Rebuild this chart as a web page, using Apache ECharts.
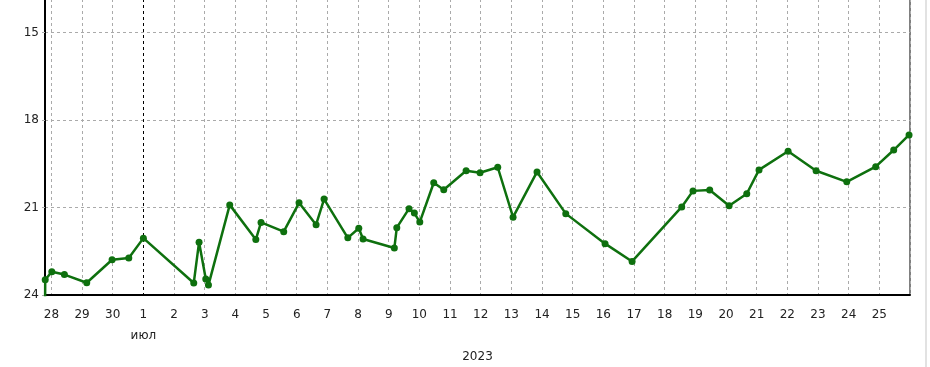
<!DOCTYPE html>
<html>
<head>
<meta charset="utf-8">
<script src="https://cdn.jsdelivr.net/npm/echarts@6/dist/echarts.min.js"></script>
<style>
html,body{margin:0;padding:0;background:#fff;overflow:hidden;width:930px;height:367px;}
#chart{width:930px;height:422px;margin-top:-55px;}
</style>
</head>
<body>
<div id="chart"></div>
<script>
// ---- data ----
var times = [
  '2023-06-27 19:00', '2023-06-27 19:10', '2023-06-28 00:20', '2023-06-28 10:10',
  '2023-06-29 03:40', '2023-06-29 23:30', '2023-06-30 12:35', '2023-07-01 00:00',
  '2023-07-02 15:25', '2023-07-02 19:35', '2023-07-03 00:50', '2023-07-03 02:55',
  '2023-07-03 19:35', '2023-07-04 16:00', '2023-07-04 20:05', '2023-07-05 13:50',
  '2023-07-06 01:50', '2023-07-06 15:10', '2023-07-06 21:25', '2023-07-07 16:00',
  '2023-07-08 00:35', '2023-07-08 03:55', '2023-07-09 04:25', '2023-07-09 06:20',
  '2023-07-09 15:55', '2023-07-09 20:05', '2023-07-10 00:20', '2023-07-10 11:15',
  '2023-07-10 19:05', '2023-07-11 12:35', '2023-07-11 23:30', '2023-07-12 13:20',
  '2023-07-13 01:20', '2023-07-13 20:05', '2023-07-14 18:35', '2023-07-16 01:20',
  '2023-07-16 22:30', '2023-07-18 13:20', '2023-07-18 22:10', '2023-07-19 11:15',
  '2023-07-20 02:25', '2023-07-20 16:15', '2023-07-21 01:50', '2023-07-22 00:35',
  '2023-07-22 22:30', '2023-07-23 22:30', '2023-07-24 21:10', '2023-07-25 11:15',
  '2023-07-25 23:15'
];
var values = [
  24.8, 23.48, 23.20, 23.30,
  23.58, 22.79, 22.73, 22.05,
  23.59, 22.19, 23.45, 23.66,
  20.91, 22.10, 21.51, 21.83,
  20.84, 21.59, 20.71, 22.04,
  21.71, 22.08, 22.39, 21.69,
  21.04, 21.19, 21.50, 20.15,
  20.39, 19.74, 19.81, 19.62,
  21.33, 19.78, 21.21, 22.24,
  22.85, 20.98, 20.43, 20.40,
  20.94, 20.53, 19.71, 19.07,
  19.74, 20.12, 19.60, 19.03,
  18.51
];
var xMin = '2023-06-27 19:00';
var xMax = '2023-07-26 00:00';
var monthBoundary = '2023-07-01 00:00';
var monthNames = ['янв','фев','мар','апр','май','июн','июл','авг','сен','окт','ноя','дек'];
var yearLabel = '2023';
var yMin = 12, yMax = 24, yStep = 3;

function ts(s) {
  var p = s.split(/[- :]/).map(Number);
  return new Date(p[0], p[1] - 1, p[2], p[3], p[4]).getTime();
}

var seriesData = times.map(function (t, i) { return [ts(t), values[i]]; });
var maxTs = ts(xMax);

var chart = echarts.init(document.getElementById('chart'));
var font = 'DejaVu Sans';
chart.setOption({
  animation: false,
  backgroundColor: '#fff',
  grid: {
    left: 45, right: 20, top: 0, bottom: 72,
    containLabel: false,
    outerBoundsMode: 'none',
    show: true, borderColor: '#000', borderWidth: 1, backgroundColor: 'transparent'
  },
  xAxis: {
    type: 'time',
    min: ts(xMin),
    max: maxTs,
    minInterval: 86400000,
    maxInterval: 86400000,
    name: yearLabel,
    nameLocation: 'middle',
    nameGap: 52,
    nameTextStyle: { fontFamily: font, fontSize: 12, color: '#222' },
    axisLine: { show: true, lineStyle: { color: '#000', width: 2 } },
    axisTick: { show: false },
    splitLine: { show: true, lineStyle: { color: '#aaa', type: [3, 3], width: 1 } },
    axisLabel: {
      fontFamily: font, fontSize: 12, color: '#222', margin: 9, lineHeight: 21,
      hideOverlap: false,
      formatter: function (val) {
        var d = new Date(val);
        if (d.getHours() || d.getMinutes()) return '';
        if (val >= maxTs) return '';
        if (d.getDate() === 1) return '1\n' + monthNames[d.getMonth()];
        return String(d.getDate());
      }
    }
  },
  yAxis: {
    type: 'value',
    inverse: true,
    min: yMin, max: yMax, interval: yStep,
    axisLine: { show: true, lineStyle: { color: '#000', width: 2 } },
    axisTick: { show: true, length: 5, lineStyle: { color: '#aaa', type: [3, 3] } },
    splitLine: { show: true, lineStyle: { color: '#aaa', type: [3, 3], width: 1 } },
    axisLabel: { fontFamily: font, fontSize: 12, color: '#222', margin: 6 }
  },
  series: [{
    type: 'line',
    data: seriesData,
    clip: true,
    symbol: 'circle',
    symbolSize: 7,
    showAllSymbol: true,
    lineStyle: { color: '#0e700e', width: 2.5 },
    itemStyle: { color: '#0e700e' },
    markLine: {
      silent: true,
      symbol: 'none',
      label: { show: false },
      lineStyle: { color: '#000', type: [3, 3], width: 1 },
      data: [{ xAxis: ts(monthBoundary) }],
      z: 1
    },
    z: 3
  }],
  graphic: [{
    type: 'rect',
    shape: { x: 925, y: 0, width: 2, height: 422 },
    style: { fill: '#e2e2e2' },
    silent: true
  }]
});
</script>
</body>
</html>
